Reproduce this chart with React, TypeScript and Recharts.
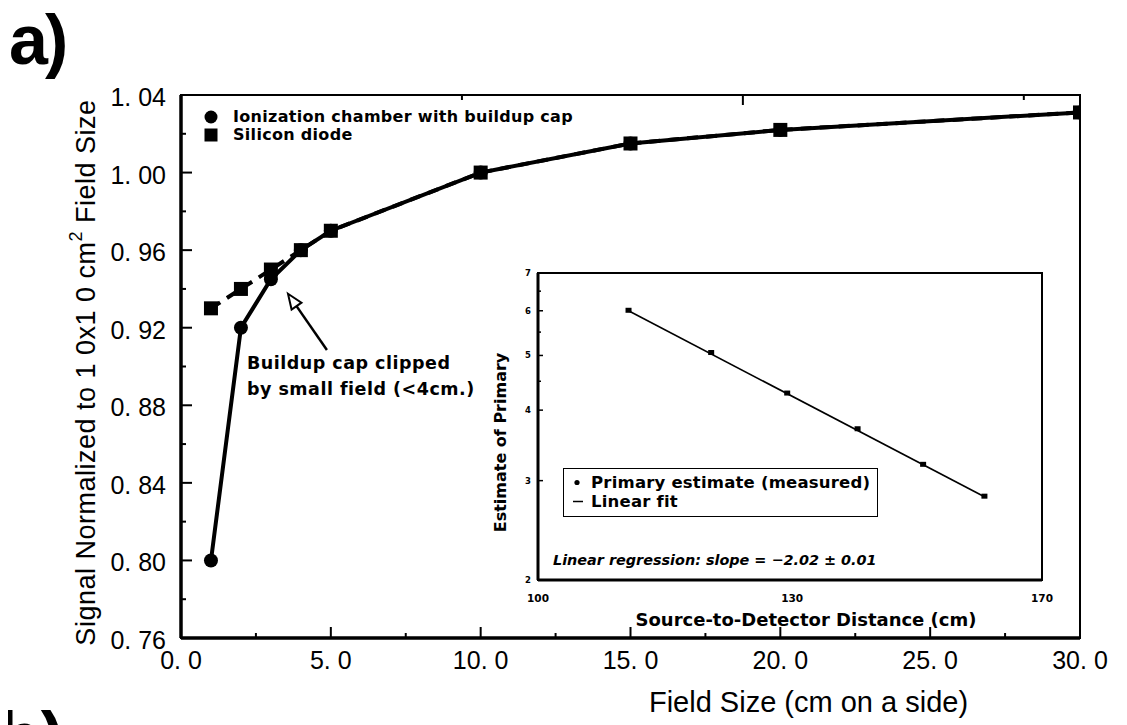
import React from 'react';
import { LineChart, Line, XAxis, YAxis, ReferenceArea, ReferenceLine, ReferenceDot, Legend } from 'recharts';

// ---------- main chart data ----------
const fieldSizes = [1, 2, 3, 4, 5, 10, 15, 20, 30];
const ionChamber = [0.8, 0.92, 0.945, 0.96, 0.97, 1.0, 1.015, 1.022, 1.031];
const siliconDiode = [0.93, 0.94, 0.95, 0.96, 0.97, 1.0, 1.015, 1.022, 1.031];

const xMajorTicks = [0, 5, 10, 15, 20, 25, 30];
const xMinorTicks = [2.5, 7.5, 12.5, 17.5, 22.5, 27.5];
const xTickLabels = ['0. 0', '5. 0', '10. 0', '15. 0', '20. 0', '25. 0', '30. 0'];
const yMajorTicks = [0.76, 0.8, 0.84, 0.88, 0.92, 0.96, 1.0, 1.04];
const yMinorTicks = [0.78, 0.82, 0.86, 0.9, 0.94, 0.98, 1.02];
const yTickLabels = ['0. 76', '0. 80', '0. 84', '0. 88', '0. 92', '0. 96', '1. 00', '1. 04'];

// ---------- inset data ----------
const distances = [110, 120, 130, 140, 150, 160];
const primaryEstimates = [6.0, 5.05, 4.28, 3.7, 3.2, 2.81];
const fitDistances = [110, 160];
const fitValues = [6.0, 2.81];
const insetYMajor = [2, 3, 4, 5, 6, 7];
const insetYMinor = [4.5, 5.5, 6.5];
const insetXTicks = [100, 130, 170];

const mainData = fieldSizes.map((x, i) => ({ x, ion: ionChamber[i], diode: siliconDiode[i] }));
const insetPoints = distances.map((d, i) => ({ d, p: primaryEstimates[i] }));
const insetFit = fitDistances.map((d, i) => ({ d, f: fitValues[i] }));

const isIn = (arr: number[], v: number) => arr.some((t) => Math.abs(t - v) < 1e-6);

const SANS = '"Liberation Sans", Arial, sans-serif';
const BOLD = '"DejaVu Sans", sans-serif';

const MainXTick = (props: any) => {
  const { x, y, payload } = props;
  const v = payload.value;
  const idx = xMajorTicks.findIndex((t) => Math.abs(t - v) < 1e-6);
  const major = idx >= 0;
  return (
    <g>
      <line x1={x} x2={x} y1={y} y2={y - (major ? 11 : 5)} stroke="#000" strokeWidth={2} />
      {major && (
        <text x={x} y={y + 22} textAnchor="middle" dominantBaseline="central" fontFamily={SANS} fontSize={25} fill="#000">
          {xTickLabels[idx]}
        </text>
      )}
    </g>
  );
};

const TopXTick = (props: any) => {
  const { x, y, payload } = props;
  const major = isIn(xMajorTicks, payload.value);
  return <line x1={x} x2={x} y1={y} y2={y + (major ? 10 : 5)} stroke="#000" strokeWidth={2} />;
};

const MainYTick = (props: any) => {
  const { x, y, payload } = props;
  const v = payload.value;
  const idx = yMajorTicks.findIndex((t) => Math.abs(t - v) < 1e-6);
  const major = idx >= 0;
  return (
    <g>
      <line x1={x} x2={x + (major ? 11 : 5)} y1={y} y2={y} stroke="#000" strokeWidth={2} />
      {major && (
        <text x={x - 15} y={y + 2} textAnchor="end" dominantBaseline="central" fontFamily={SANS} fontSize={25} fill="#000">
          {yTickLabels[idx]}
        </text>
      )}
    </g>
  );
};

const SquareDot = (props: any) => {
  const { cx, cy } = props;
  if (cx == null || cy == null) return <g />;
  return <rect x={cx - 7} y={cy - 7} width={14} height={14} fill="#000" />;
};
const CircleDot = (props: any) => {
  const { cx, cy } = props;
  if (cx == null || cy == null) return <g />;
  return <circle cx={cx} cy={cy} r={7} fill="#000" />;
};
const SmallSquare = (props: any) => {
  const { cx, cy } = props;
  if (cx == null || cy == null) return <g />;
  return <rect x={cx - 3} y={cy - 3} width={6} height={5} fill="#000" />;
};

const ArrowShape = (props: any) => {
  const { x1, y1, x2, y2 } = props;
  if (x1 == null) return <g />;
  const ang = Math.atan2(y2 - y1, x2 - x1);
  const len = 15;
  const half = 6;
  const bx = x2 - len * Math.cos(ang);
  const by = y2 - len * Math.sin(ang);
  const px = -Math.sin(ang) * half;
  const py = Math.cos(ang) * half;
  return (
    <g>
      <line x1={x1} y1={y1} x2={bx} y2={by} stroke="#000" strokeWidth={2.5} />
      <polygon points={`${x2},${y2} ${bx + px},${by + py} ${bx - px},${by - py}`} fill="#fff" stroke="#000" strokeWidth={2} />
    </g>
  );
};

const AnnotationText = (props: any) => {
  const { cx, cy } = props;
  if (cx == null) return <g />;
  return (
    <g fontFamily={BOLD} fontWeight="bold" fontSize={17.5} fill="#000" letterSpacing={0.5}>
      <text x={cx} y={cy} dominantBaseline="central">Buildup cap clipped</text>
      <text x={cx} y={cy + 26} dominantBaseline="central">by small field (&lt;4cm.)</text>
    </g>
  );
};

const MainLegend = () => (
  <div style={{ fontFamily: BOLD, fontWeight: 'bold', fontSize: 16, lineHeight: '18px', letterSpacing: 0.3, color: '#000', textAlign: 'left' }}>
    <div style={{ display: 'flex', alignItems: 'center' }}>
      <svg width={30} height={18}><circle cx={8} cy={9} r={6.5} fill="#000" /></svg>
      <span>Ionization chamber with buildup cap</span>
    </div>
    <div style={{ display: 'flex', alignItems: 'center' }}>
      <svg width={30} height={18}><rect x={1.5} y={2.5} width={13} height={13} fill="#000" /></svg>
      <span>Silicon diode</span>
    </div>
  </div>
);

const InsetYTick = (props: any) => {
  const { x, y, payload } = props;
  const v = payload.value;
  const major = isIn(insetYMajor, v);
  return (
    <g>
      <line x1={x} x2={x + (major ? 5 : 3)} y1={y} y2={y} stroke="#000" strokeWidth={1.5} />
      {major && (
        <text x={x - 10} y={y} textAnchor="middle" dominantBaseline="central" fontFamily={BOLD} fontWeight="bold" fontSize={8.5} fill="#000">
          {v}
        </text>
      )}
    </g>
  );
};

const InsetXTick = (props: any) => {
  const { x, y, payload } = props;
  return (
    <text x={x + (payload.value === 130 ? 5 : 0)} y={y + 18} textAnchor="middle" dominantBaseline="central" fontFamily={BOLD} fontWeight="bold" fontSize={10.5} fill="#000">
      {payload.value}
    </text>
  );
};

const InsetLegend = () => (
  <div style={{ fontFamily: BOLD, fontWeight: 'bold', color: '#000', textAlign: 'left' }}>
    <div style={{ width: 315, height: 49, border: '1.5px solid #000', boxSizing: 'border-box', paddingTop: 4, fontSize: 16.5, lineHeight: '19px', letterSpacing: 0.2 }}>
      <div style={{ display: 'flex', alignItems: 'center' }}>
        <svg width={27} height={19}><circle cx={13} cy={9.5} r={2.6} fill="#000" /></svg>
        <span>Primary estimate (measured)</span>
      </div>
      <div style={{ display: 'flex', alignItems: 'center' }}>
        <svg width={27} height={19}><line x1={9} x2={19} y1={9.5} y2={9.5} stroke="#000" strokeWidth={1.5} /></svg>
        <span>Linear fit</span>
      </div>
    </div>
    <div style={{ marginTop: 34, marginLeft: -10, fontSize: 14.4, fontStyle: 'italic', lineHeight: '18px' }}>
      Linear regression: slope = −2.02 ± 0.01
    </div>
  </div>
);

export default function App() {
  return (
    <div style={{ position: 'relative', width: 1111, height: 717, overflow: 'hidden', background: '#fff' }}>
      <div style={{ position: 'absolute', left: 1, top: -3, fontFamily: SANS, fontWeight: 'bold', fontSize: 70, lineHeight: '70px', letterSpacing: -3, color: '#000' }}>a)</div>
      <div style={{ position: 'absolute', left: -10, top: 694, fontFamily: SANS, fontWeight: 'bold', fontSize: 70, lineHeight: '70px', color: '#000' }}>b)</div>

      <div style={{ position: 'absolute', left: 0, top: 0 }}>
        <LineChart width={1111} height={717} data={mainData} margin={{ top: 77, right: 39, bottom: 0, left: 0 }}>
          <XAxis
            dataKey="x"
            type="number"
            domain={[0, 30]}
            ticks={[...xMajorTicks, ...xMinorTicks].sort((a, b) => a - b)}
            interval={0}
            tick={<MainXTick />}
            tickLine={false}
            tickSize={0}
            tickMargin={0}
            height={87}
            axisLine={{ stroke: '#000', strokeWidth: 3.5 }}
            allowDataOverflow
            label={{
              content: (p: any) => {
                const vb = p.viewBox || {};
                return (
                  <text x={vb.x + vb.width / 2 + 178} y={vb.y + 64} textAnchor="middle" dominantBaseline="central" fontFamily={SANS} fontSize={29} fill="#000">
                    Field Size (cm on a side)
                  </text>
                );
              },
            }}
          />
          <XAxis
            xAxisId="top"
            orientation="top"
            type="number"
            domain={[0, 30]}
            ticks={[...xMajorTicks, ...xMinorTicks].sort((a, b) => a - b)}
            interval={0}
            tick={<TopXTick />}
            tickLine={false}
            tickSize={0}
            tickMargin={0}
            height={10}
            axisLine={{ stroke: '#000', strokeWidth: 2 }}
          />
          <YAxis
            type="number"
            domain={[0.76, 1.04]}
            ticks={[...yMajorTicks, ...yMinorTicks].sort((a, b) => a - b)}
            interval={0}
            tick={<MainYTick />}
            tickLine={false}
            tickSize={0}
            tickMargin={0}
            width={173}
            axisLine={{ stroke: '#000', strokeWidth: 3.5 }}
            allowDataOverflow
            label={{
              content: (p: any) => {
                const vb = p.viewBox || {};
                const cx = 78;
                const cy = vb.y + vb.height / 2 + 6;
                return (
                  <text x={cx} y={cy} transform={`rotate(-90 ${cx} ${cy})`} textAnchor="middle" dominantBaseline="central" fontFamily={SANS} fontSize={27} fill="#000" letterSpacing={0.5}>
                    Signal Normalized to 1 0x1 0 cm<tspan baselineShift="super" fontSize={18}>2</tspan> Field Size
                  </text>
                );
              },
            }}
          />
          <ReferenceArea x1={0} x2={30} y1={0.76} y2={1.04} fill="none" stroke="#000" strokeWidth={2} ifOverflow="visible" />
          <Legend
            layout="horizontal"
            verticalAlign="middle"
            align="center"
            wrapperStyle={{ left: 195, top: 100, width: 420, height: 40 }}
            content={() => <MainLegend />}
          />
          <Line
            dataKey="ion"
            name="Ionization chamber with buildup cap"
            stroke="#000"
            strokeWidth={4}
            dot={<CircleDot />}
            isAnimationActive={false}
          />
          <Line
            dataKey="diode"
            name="Silicon diode"
            stroke="#000"
            strokeWidth={4}
            strokeDasharray="11 8"
            dot={<SquareDot />}
            isAnimationActive={false}
          />
          <ReferenceLine
            segment={[{ x: 4.87, y: 0.9085 }, { x: 3.57, y: 0.9375 }]}
            shape={<ArrowShape />}
            ifOverflow="visible"
          />
          <ReferenceDot x={2.2} y={0.9016} r={0} shape={<AnnotationText />} ifOverflow="visible" />
        </LineChart>
      </div>

      <div style={{ position: 'absolute', left: 470, top: 255 }}>
        <LineChart width={590} height={380} margin={{ top: 10, right: 26, bottom: 0, left: 0 }}>
          <XAxis
            dataKey="d"
            type="number"
            scale="log"
            domain={[100, 170]}
            ticks={insetXTicks}
            interval={0}
            tick={<InsetXTick />}
            tickLine={false}
            tickSize={0}
            tickMargin={0}
            height={63}
            allowDataOverflow
            axisLine={{ stroke: '#000', strokeWidth: 3 }}
            label={{
              content: (p: any) => {
                const vb = p.viewBox || {};
                return (
                  <text x={vb.x + vb.width / 2 + 16} y={vb.y + 39} textAnchor="middle" dominantBaseline="central" fontFamily={BOLD} fontWeight="bold" fontSize={18} fill="#000">
                    Source-to-Detector Distance (cm)
                  </text>
                );
              },
            }}
          />
          <YAxis
            type="number"
            scale="log"
            domain={[2, 7]}
            ticks={[...insetYMajor, ...insetYMinor].sort((a, b) => a - b)}
            interval={0}
            tick={<InsetYTick />}
            tickLine={false}
            tickSize={0}
            tickMargin={0}
            width={60}
            allowDataOverflow
            axisLine={{ stroke: '#000', strokeWidth: 3 }}
            label={{
              content: (p: any) => {
                const vb = p.viewBox || {};
                const cx = 22;
                const cy = vb.y + vb.height / 2 + 16;
                return (
                  <text x={cx} y={cy} transform={`rotate(-90 ${cx} ${cy})`} textAnchor="middle" dominantBaseline="central" fontFamily={BOLD} fontWeight="bold" fontSize={16} fill="#000">
                    Estimate of Primary
                  </text>
                );
              },
            }}
          />
          <ReferenceArea x1={100} x2={170} y1={2} y2={7} fill="none" stroke="#000" strokeWidth={2} ifOverflow="visible" />
          <Legend
            layout="horizontal"
            verticalAlign="middle"
            align="center"
            wrapperStyle={{ left: 85, top: 205, width: 420, height: 100 }}
            content={() => <InsetLegend />}
          />
          <Line
            data={insetFit}
            dataKey="f"
            name="Linear fit"
            stroke="#000"
            strokeWidth={1.6}
            dot={false}
            isAnimationActive={false}
          />
          <Line
            data={insetPoints}
            dataKey="p"
            name="Primary estimate (measured)"
            stroke="none"
            dot={<SmallSquare />}
            isAnimationActive={false}
          />
        </LineChart>
      </div>
    </div>
  );
}
